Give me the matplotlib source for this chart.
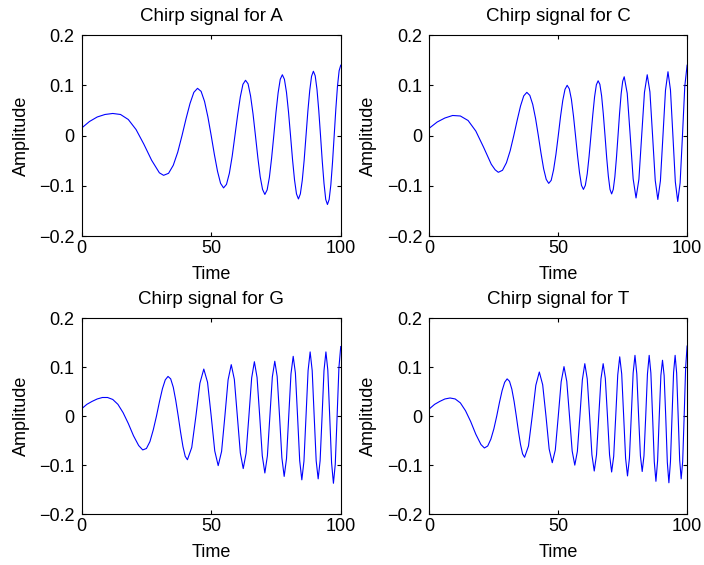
import matplotlib
matplotlib.use('Agg')
import matplotlib.pyplot as plt

plt.rcParams['font.family'] = ['Liberation Sans', 'DejaVu Sans']

# vertices (time, amplitude)
t_A = [0, 3, 6, 9, 12, 15, 18, 21, 24, 27, 30,
       31.62, 33.54, 35.36, 37.08, 38.73, 40.31, 41.83, 43.30,
       44.72, 46.10, 47.43, 48.73, 50.00, 51.24, 52.44, 53.62,
       54.77, 55.90, 57.01, 58.10, 59.16, 60.21, 61.24, 62.25,
       63.25, 64.23, 65.19, 66.15, 67.08, 68.01, 68.92, 69.82,
       70.71, 71.59, 72.46, 73.31, 74.16, 75.00, 75.83, 76.65,
       77.46, 78.26, 79.06, 79.84, 80.62, 81.40, 82.16, 82.92,
       83.67, 84.41, 85.15, 85.88, 86.60, 87.32, 88.04, 88.74,
       89.44, 90.14, 90.83, 91.52, 92.20, 92.87, 93.54, 94.21,
       94.87, 95.53, 96.18, 96.83, 97.47, 98.11, 98.74, 99.38, 100]
y_A = [0.015, 0.028, 0.037, 0.042, 0.044, 0.042, 0.032, 0.012, -0.017, -0.049, -0.074,
       -0.079, -0.075, -0.059, -0.033, 0.000, 0.034, 0.064, 0.086,
       0.094, 0.088, 0.068, 0.037, 0.000, -0.038, -0.071, -0.095,
       -0.104, -0.097, -0.075, -0.041, 0.000, 0.041, 0.077, 0.102,
       0.110, 0.103, 0.079, 0.043, 0.000, -0.044, -0.082, -0.107,
       -0.117, -0.108, -0.083, -0.045, 0.000, 0.046, 0.085, 0.112,
       0.121, 0.112, 0.086, 0.047, 0.000, -0.048, -0.088, -0.116,
       -0.126, -0.116, -0.089, -0.049, 0.000, 0.049, 0.090, 0.118,
       0.128, 0.119, 0.092, 0.050, 0.000, -0.051, -0.095, -0.127,
       -0.137, -0.127, -0.098, -0.053, 0.000, 0.053, 0.098, 0.129, 0.140]

t_C = [0, 3, 6, 9, 12, 15, 18, 21, 24, 25.5,
       26.73, 28.35, 29.88, 31.34, 32.73, 34.07, 35.36, 36.60,
       37.80, 38.96, 40.09, 41.19, 42.26, 43.30, 44.32, 45.32,
       46.29, 47.25, 48.18, 49.10, 50.00, 50.88, 51.75, 52.61,
       53.45, 54.28, 55.10, 55.90, 56.69, 57.48, 58.25, 59.01,
       59.76, 60.50, 61.24, 61.96, 62.68, 63.39, 64.09, 64.78,
       65.47, 66.14, 66.82, 67.48, 68.14, 68.79, 69.44, 70.08,
       70.71, 71.34, 71.96, 72.58, 73.19, 73.80, 74.40, 75.00,
       75.59, 76.76, 77.92, 79.06,
       80.18, 81.29, 82.37, 83.45,
       84.52, 85.57, 86.60, 87.63,
       88.64, 89.64, 90.63, 91.61,
       92.58, 93.54, 94.49, 95.43,
       96.36, 97.29, 98.20, 99.10, 100]
y_C = [0.015, 0.027, 0.035, 0.040, 0.039, 0.030, 0.009, -0.023, -0.057, -0.068,
       -0.073, -0.069, -0.054, -0.030, 0.000, 0.031, 0.059, 0.079,
       0.086, 0.080, 0.062, 0.034, 0.000, -0.035, -0.066, -0.087,
       -0.095, -0.089, -0.068, -0.037, 0.000, 0.038, 0.070, 0.092,
       0.100, 0.093, 0.072, 0.039, 0.000, -0.040, -0.074, -0.099,
       -0.107, -0.099, -0.076, -0.041, 0.000, 0.041, 0.077, 0.101,
       0.109, 0.102, 0.079, 0.043, 0.000, -0.044, -0.081, -0.107,
       -0.116, -0.107, -0.082, -0.044, 0.000, 0.045, 0.083, 0.108,
       0.117, 0.084, 0.000, -0.086,
       -0.124, -0.087, 0.000, 0.086,
       0.121, 0.087, 0.000, -0.089,
       -0.127, -0.090, 0.000, 0.090,
       0.127, 0.091, 0.000, -0.092,
       -0.131, -0.094, 0.000, 0.098, 0.140]

t_G = [0, 2, 4, 6, 8, 10, 12, 14, 16, 18, 20, 22,
       23.57, 25.00, 26.35, 27.64, 28.87, 30.05, 31.18, 32.27,
       33.33, 34.36, 35.36, 36.32, 37.27, 38.19, 39.09, 39.97,
       40.82, 42.49, 44.10, 45.64,
       47.14, 48.59, 50.00, 51.37,
       52.70, 54.01, 55.28, 56.52,
       57.74, 58.93, 60.09, 61.24,
       62.36, 63.46, 64.55, 65.62,
       66.67, 67.70, 68.72, 69.72,
       70.71, 71.69, 72.65, 73.60,
       74.54, 75.46, 76.38, 77.28,
       78.17, 79.06, 79.93, 80.79,
       81.65, 82.50, 83.33, 84.16,
       84.98, 85.80, 86.60, 87.40,
       88.19, 88.98, 89.75, 90.52,
       91.29, 92.04, 92.80, 93.54,
       94.28, 95.01, 95.74, 96.46,
       97.18, 97.89, 98.60, 99.30, 100]
y_G = [0.015, 0.024, 0.030, 0.035, 0.038, 0.038, 0.034, 0.024, 0.007, -0.015, -0.040, -0.060,
       -0.069, -0.066, -0.052, -0.028, 0.000, 0.030, 0.056, 0.074,
       0.081, 0.076, 0.059, 0.032, 0.000, -0.033, -0.062, -0.082,
       -0.089, -0.064, 0.000, 0.067,
       0.096, 0.069, 0.000, -0.071,
       -0.101, -0.072, 0.000, 0.074,
       0.105, 0.075, 0.000, -0.075,
       -0.107, -0.076, 0.000, 0.078,
       0.111, 0.079, 0.000, -0.081,
       -0.116, -0.081, 0.000, 0.080,
       0.112, 0.081, 0.000, -0.085,
       -0.123, -0.087, 0.000, 0.086,
       0.122, 0.088, 0.000, -0.091,
       -0.130, -0.092, 0.000, 0.093,
       0.131, 0.093, 0.000, -0.091,
       -0.128, -0.091, 0.000, 0.093,
       0.131, 0.094, 0.000, -0.095,
       -0.137, -0.098, 0.000, 0.099, 0.142]

t_T = [0, 2, 4, 6, 8, 10, 12, 14, 16, 18, 20,
       21.32, 22.61, 23.84, 25.00, 26.11, 27.18, 28.20, 29.19,
       30.15, 31.08, 31.98, 32.86, 33.71, 34.54, 35.35, 36.15,
       36.93, 38.44, 39.89, 41.29,
       42.64, 43.95, 45.23, 46.46,
       47.67, 48.85, 50.00, 51.12,
       52.22, 53.30, 54.36, 55.39,
       56.41, 57.41, 58.39, 59.35,
       60.30, 61.24, 62.16, 63.06,
       63.96, 64.84, 65.71, 66.57,
       67.42, 68.26, 69.09, 69.90,
       70.71, 71.51, 72.30, 73.08,
       73.85, 74.62, 75.38, 76.13,
       76.87, 77.61, 78.33, 79.06,
       79.77, 80.48, 81.18, 81.88,
       82.57, 83.26, 83.94, 84.61,
       85.28, 85.94, 86.60, 87.26,
       87.90, 88.55, 89.19, 89.82,
       90.45, 91.08, 91.70, 92.32,
       92.93, 93.54, 94.15, 94.75,
       95.35, 95.94, 96.53, 97.12,
       97.70, 98.28, 98.86, 99.43, 100]
y_T = [0.015, 0.024, 0.030, 0.035, 0.037, 0.035, 0.027, 0.011, -0.011, -0.037, -0.058,
       -0.065, -0.061, -0.047, -0.026, 0.000, 0.028, 0.052, 0.069,
       0.076, 0.071, 0.055, 0.030, 0.000, -0.031, -0.058, -0.077,
       -0.084, -0.061, 0.000, 0.063,
       0.090, 0.064, 0.000, -0.067,
       -0.095, -0.069, 0.000, 0.070,
       0.101, 0.071, 0.000, -0.071,
       -0.100, -0.072, 0.000, 0.074,
       0.107, 0.076, 0.000, -0.079,
       -0.112, -0.079, 0.000, 0.076,
       0.107, 0.077, 0.000, -0.079,
       -0.114, -0.082, 0.000, 0.084,
       0.121, 0.086, 0.000, -0.086,
       -0.122, -0.086, 0.000, 0.088,
       0.124, 0.086, 0.000, -0.081,
       -0.113, -0.081, 0.000, 0.086,
       0.124, 0.088, 0.000, -0.093,
       -0.133, -0.091, 0.000, 0.083,
       0.114, 0.083, 0.000, -0.094,
       -0.136, -0.093, 0.000, 0.089,
       0.124, 0.088, 0.000, -0.090,
       -0.128, -0.093, 0.000, 0.099, 0.143]

bases = ['A', 'C', 'G', 'T']
x_ticks = [0, 50, 100]
y_ticks = [-0.2, -0.1, 0, 0.1, 0.2]
y_tick_labels = ['\u22120.2', '\u22120.1', '0', '0.1', '0.2']


def main():
    fig = plt.figure(figsize=(7.04, 5.65), dpi=100)
    boxes = [[0.116, 0.582, 0.368, 0.356],
             [0.610, 0.582, 0.366, 0.356],
             [0.116, 0.090, 0.368, 0.347],
             [0.610, 0.090, 0.366, 0.347]]
    series = [(t_A, y_A), (t_C, y_C), (t_G, y_G), (t_T, y_T)]

    for base, box, (t, y) in zip(bases, boxes, series):
        ax = fig.add_axes(box)
        ax.plot(t, y, color='#0000ff', linewidth=0.8)
        ax.set_xlim(0, 100)
        ax.set_ylim(-0.2, 0.2)
        ax.set_xticks(x_ticks)
        ax.set_xticklabels([str(v) for v in x_ticks])
        ax.set_yticks(y_ticks)
        ax.set_yticklabels(y_tick_labels)
        ax.tick_params(direction='in', top=True, right=True, length=3,
                       width=0.8, labelsize=13)
        ax.tick_params(axis='x', pad=3)
        ax.tick_params(axis='y', pad=5)
        for spine in ax.spines.values():
            spine.set_linewidth(0.8)
        ax.set_title('Chirp signal for ' + base, fontsize=13.5, pad=10)
        ax.set_xlabel('Time', fontsize=13, labelpad=6)
        ax.set_ylabel('Amplitude', fontsize=13, labelpad=7)

    plt.savefig('out.png', dpi=100)


main()
